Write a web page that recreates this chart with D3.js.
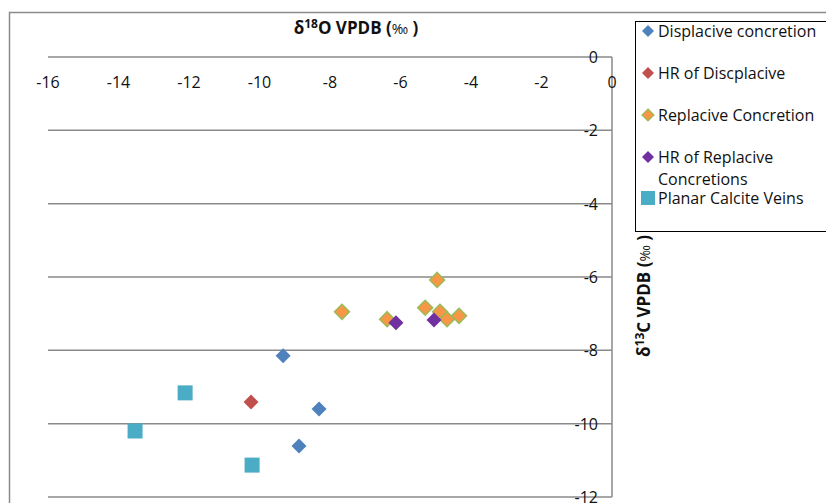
<!DOCTYPE html>
<html>
<head>
<meta charset="utf-8">
<script src="https://cdn.jsdelivr.net/npm/d3@7"></script>
<style>
  body { margin: 0; background: #fff; }
  text { font-family: "Open Sans", Lato, sans-serif; }
</style>
</head>
<body>
<svg id="chart" width="826" height="503"></svg>
<script>
const xTicks = [-16, -14, -12, -10, -8, -6, -4, -2, 0];
const yTicks = [0, -2, -4, -6, -8, -10, -12];

const displacive = [[-9.33, -8.15], [-8.31, -9.6], [-8.88, -10.61]];
const hrDisplacive = [[-10.24, -9.41]];
const replacive = [[-7.66, -6.95], [-6.38, -7.15], [-5.3, -6.84], [-4.96, -6.08], [-4.88, -6.95], [-4.68, -7.15], [-4.34, -7.06]];
const hrReplacive = [[-6.13, -7.25], [-5.05, -7.17]];
const planarVeins = [[-12.11, -9.16], [-13.53, -10.2], [-10.21, -11.13]];

const seriesNames = ["Displacive concretion", "HR of Discplacive", "Replacive Concretion", "HR of Replacive Concretions", "Planar Calcite Veins"];

const series = [
  { name: seriesNames[0], data: displacive, shape: "diamond", fill: "#4f81bd", stroke: "none" },
  { name: seriesNames[1], data: hrDisplacive, shape: "diamond", fill: "#c0504d", stroke: "none" },
  { name: seriesNames[2], data: replacive, shape: "diamond", fill: "#f79646", stroke: "#9bbb59" },
  { name: seriesNames[3], data: hrReplacive, shape: "diamond", fill: "#7030a0", stroke: "none" },
  { name: seriesNames[4], data: planarVeins, shape: "square", fill: "#4bacc6", stroke: "none" }
];

const svg = d3.select("#chart");
const gridColor = "#8a8a8a";
const textColor = "#111";

const x = d3.scaleLinear().domain([-16, 0]).range([48, 612]);
const y = d3.scaleLinear().domain([0, -12]).range([57, 497]);

// outer chart border
svg.append("rect")
  .attr("x", 9.5).attr("y", 12.5)
  .attr("width", 830).attr("height", 500)
  .attr("fill", "none").attr("stroke", "#8c8c8c").attr("stroke-width", 1.5);

// horizontal gridlines
svg.append("g")
  .selectAll("line").data(yTicks.filter(d => d !== 0)).enter().append("line")
  .attr("x1", x(-16)).attr("x2", x(0))
  .attr("y1", d => y(d)).attr("y2", d => y(d))
  .attr("stroke", gridColor).attr("stroke-width", 1.5);

// x axis sits at y=0 (top)
svg.append("line")
  .attr("x1", x(-16)).attr("x2", x(0))
  .attr("y1", y(0)).attr("y2", y(0))
  .attr("stroke", gridColor).attr("stroke-width", 1.5);

// y axis sits at x=0 (right)
svg.append("line")
  .attr("x1", x(0)).attr("x2", x(0))
  .attr("y1", y(0)).attr("y2", y(-12))
  .attr("stroke", gridColor).attr("stroke-width", 1.5);

svg.append("g")
  .selectAll("text").data(xTicks).enter().append("text")
  .attr("x", d => x(d))
  .attr("y", 88)
  .attr("text-anchor", "middle")
  .attr("font-size", 16)
  .attr("fill", textColor)
  .text(d => d);

svg.append("g")
  .selectAll("text").data(yTicks).enter().append("text")
  .attr("x", 598)
  .attr("y", d => y(d) + 6)
  .attr("text-anchor", "end")
  .attr("font-size", 16)
  .attr("fill", textColor)
  .text(d => d);

// axis titles
function addTitle(sel, sup, rest) {
  sel.append("tspan").text("δ");
  sel.append("tspan").text(sup).attr("font-size", 12).attr("dy", -6);
  sel.append("tspan").text(rest).attr("dy", 6);
  sel.append("tspan").text("‰").attr("font-weight", "normal").attr("font-size", 14);
  sel.append("tspan").text(" )");
}

const xTitle = svg.append("text")
  .attr("x", 356).attr("y", 34)
  .attr("text-anchor", "middle")
  .attr("font-size", 17).attr("font-weight", "bold")
  .attr("fill", textColor);
addTitle(xTitle, "18", "O VPDB (");

const yTitle = svg.append("text")
  .attr("transform", "translate(650,296) rotate(-90)")
  .attr("text-anchor", "middle")
  .attr("font-size", 17).attr("font-weight", "bold")
  .attr("fill", textColor);
addTitle(yTitle, "13", "C VPDB (");

function markerPath(shape) {
  if (shape === "square") return "M-7.5,-7.5H7.5V7.5H-7.5Z";
  return "M0,-7.5L7.5,0L0,7.5L-7.5,0Z";
}

// points
series.forEach(s => {
  svg.append("g")
    .selectAll("path").data(s.data).enter().append("path")
    .attr("d", markerPath(s.shape))
    .attr("transform", d => `translate(${x(d[0])},${y(d[1])})`)
    .attr("fill", s.fill)
    .attr("stroke", s.stroke)
    .attr("stroke-width", s.stroke === "none" ? 0 : 1.5);
});

// legend
const legend = svg.append("g");
legend.append("rect")
  .attr("x", 635.5).attr("y", 21.5)
  .attr("width", 200).attr("height", 210)
  .attr("fill", "#fff").attr("stroke", "#000").attr("stroke-width", 1);

const legendRows = [31, 73, 115, 157, 198];
series.forEach((s, i) => {
  const row = legend.append("g").attr("transform", `translate(0,${legendRows[i]})`);
  row.append("path")
    .attr("d", s.shape === "square" ? "M-7,-7H7V7H-7Z" : "M0,-6L6,0L0,6L-6,0Z")
    .attr("transform", "translate(648,0)")
    .attr("fill", s.fill)
    .attr("stroke", s.stroke)
    .attr("stroke-width", s.stroke === "none" ? 0 : 1.2);
  const t = row.append("text")
    .attr("x", 658).attr("y", 6)
    .attr("font-size", 16)
    .attr("fill", textColor);
  if (s.name === "HR of Replacive Concretions") {
    t.append("tspan").text("HR of Replacive");
    t.append("tspan").attr("x", 658).attr("dy", 22).text("Concretions");
  } else {
    t.text(s.name);
  }
});
</script>
</body>
</html>
